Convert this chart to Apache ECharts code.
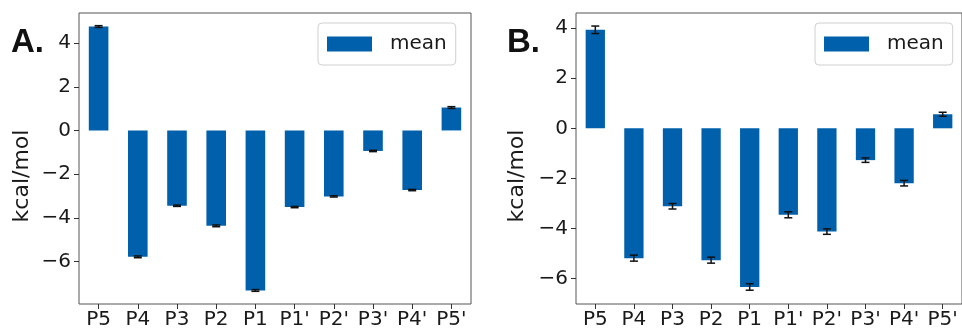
<!DOCTYPE html>
<html>
<head>
<meta charset="utf-8">
<script src="https://cdn.jsdelivr.net/npm/echarts@6/dist/echarts.min.js"></script>
<style>
  html, body { margin: 0; padding: 0; background: #fff; }
  #container { width: 962px; height: 331px; }
</style>
</head>
<body>
<div id="container"></div>
<script>
// positions on the x axis
var categories = ["P5", "P4", "P3", "P2", "P1", "P1'", "P2'", "P3'", "P4'", "P5'"];

// panel A: mean and error (kcal/mol)
var meanA = [4.76, -5.79, -3.45, -4.37, -7.33, -3.51, -3.02, -0.94, -2.73, 1.05];
var errA = [0.04, 0.04, 0.03, 0.04, 0.04, 0.03, 0.03, 0.03, 0.03, 0.04];

// panel B
var meanB = [3.93, -5.18, -3.11, -5.26, -6.33, -3.45, -4.12, -1.27, -2.19, 0.56];
var errB = [0.15, 0.12, 0.11, 0.12, 0.13, 0.12, 0.11, 0.09, 0.11, 0.08];

var FONT = "DejaVu Sans";
var barColor = "#0060ab";

var dom = document.getElementById("container");
var myChart = echarts.init(dom, null, { renderer: "canvas" });

function tickFmt(v) {
  if (Math.abs(v % 2) > 1e-6) return "";
  return String(v).replace("-", "\u2212");
}

function errItem(params, api) {
  var x = api.value(0);
  var y = api.value(1);
  var e = api.value(2);
  var hi = api.coord([x, y + e]);
  var lo = api.coord([x, y - e]);
  var w = 4;
  var st = { stroke: "#111", lineWidth: 1.5 };
  return {
    type: "group",
    children: [
      { type: "line", shape: { x1: hi[0], y1: hi[1], x2: lo[0], y2: lo[1] }, style: st },
      { type: "line", shape: { x1: hi[0] - w, y1: hi[1], x2: hi[0] + w, y2: hi[1] }, style: st },
      { type: "line", shape: { x1: lo[0] - w, y1: lo[1], x2: lo[0] + w, y2: lo[1] }, style: st },
    ],
  };
}

function xAxisOf(idx) {
  return {
    type: "category",
    gridIndex: idx,
    data: categories,
    boundaryGap: true,
    axisLine: { show: false, onZero: false },
    axisTick: { show: true, alignWithLabel: true, length: 5, lineStyle: { color: "#333" } },
    axisLabel: { color: "#1a1a1a", fontFamily: FONT, fontSize: 20, margin: 6, interval: 0 },
    splitLine: { show: false },
  };
}

function yAxisOf(idx, mn, mx) {
  return {
    type: "value",
    gridIndex: idx,
    min: mn,
    max: mx,
    splitNumber: 6,
    axisLine: { show: false },
    axisTick: { show: true, length: 5, lineStyle: { color: "#333" } },
    axisLabel: {
      color: "#1a1a1a", fontFamily: FONT, fontSize: 20, margin: 8,
      showMinLabel: false, showMaxLabel: false, formatter: tickFmt,
    },
    splitLine: { show: false },
  };
}

function legendOf(left) {
  return {
    data: ["mean"],
    left: left,
    top: 23,
    icon: "rect",
    itemWidth: 45,
    itemHeight: 15,
    padding: [11, 9, 11, 9],
    borderColor: "#d0d0d0",
    borderWidth: 1,
    borderRadius: 4,
    textStyle: { fontFamily: FONT, fontSize: 20, color: "#1a1a1a", padding: [0, 0, 0, 13] },
    selectedMode: false,
  };
}

var option = {
  animation: false,
  backgroundColor: "#fff",
  grid: [
    { left: 79, top: 13, width: 392, height: 291, show: true, borderColor: "#555", borderWidth: 1, backgroundColor: "transparent" },
    { left: 576, top: 13, width: 392, height: 291, show: true, borderColor: "#555", borderWidth: 1, backgroundColor: "transparent" },
  ],
  legend: [legendOf(318), legendOf(815)],
  xAxis: [xAxisOf(0), xAxisOf(1)],
  yAxis: [yAxisOf(0, -7.95, 5.38), yAxisOf(1, -7.01, 4.6)],
  graphic: [
    { type: "text", left: 11, top: 26, style: { text: "A.", font: "bold 33px 'Liberation Sans'", fill: "#111" } },
    { type: "text", left: 507, top: 26, style: { text: "B.", font: "bold 33px 'Liberation Sans'", fill: "#111" } },
    {
      type: "text", x: 22, y: 176, rotation: Math.PI / 2,
      style: { text: "kcal/mol", font: "22px 'DejaVu Sans'", fill: "#1a1a1a", align: "center", verticalAlign: "middle" },
    },
    {
      type: "text", x: 517, y: 176, rotation: Math.PI / 2,
      style: { text: "kcal/mol", font: "22px 'DejaVu Sans'", fill: "#1a1a1a", align: "center", verticalAlign: "middle" },
    },
  ],
  series: [
    {
      name: "mean", type: "bar", xAxisIndex: 0, yAxisIndex: 0,
      data: meanA, barWidth: "50%", itemStyle: { color: barColor },
    },
    {
      name: "errA", type: "custom", xAxisIndex: 0, yAxisIndex: 0, z: 5,
      renderItem: errItem, encode: { x: 0, y: 1 },
      data: meanA.map(function (v, i) { return [i, v, errA[i]]; }),
    },
    {
      name: "mean", type: "bar", xAxisIndex: 1, yAxisIndex: 1,
      data: meanB, barWidth: "50%", itemStyle: { color: barColor },
    },
    {
      name: "errB", type: "custom", xAxisIndex: 1, yAxisIndex: 1, z: 5,
      renderItem: errItem, encode: { x: 0, y: 1 },
      data: meanB.map(function (v, i) { return [i, v, errB[i]]; }),
    },
  ],
};

myChart.setOption(option);
window.addEventListener("resize", myChart.resize);
</script>
</body>
</html>
